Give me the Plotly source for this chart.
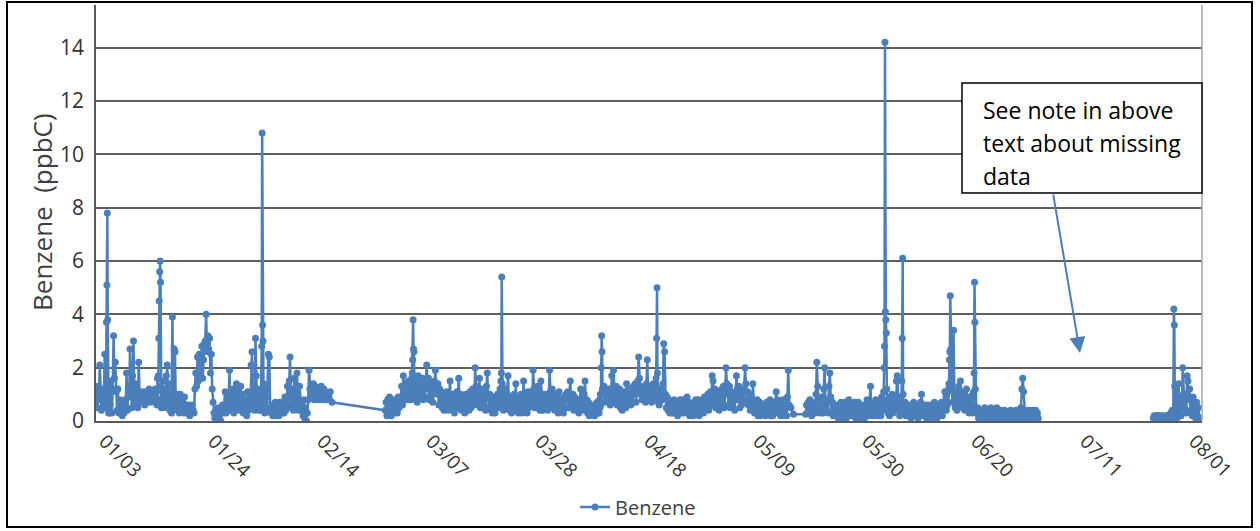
import pandas as pd
import plotly.graph_objects as go

# ---------------- DATA (ppbC), one string per calendar day, values evenly spread in the day ----------------
year_start = "2022-01-01"

seg1_first_day = 0      # Jan 01
seg1_days = [
    "1.2 0.6 1.0 0.5 1.3 0.8", "2.1 0.9 0.4 1.1 0.6 1.2",
    "2.5 1.2 0.5 1.3 3.7 5.1 7.8 3.8 1.0 0.3 0.8 0.3",
    "0.6 1.5 0.3 1.2 3.2 1.6", "2.2 1.1 0.4 1.2 0.3 0.8", "0.3 0.6 0.2 0.7 0.3 0.8",
    "0.5 1.8 0.4 1.2 0.9 2.7", "1.1 0.5 1.7 3.0 0.7 1.4", "0.6 1.2 0.5 2.2 1.0 0.7",
    "0.8 1.1 0.7 1.0 0.6 1.1", "0.7 1.0 0.8 1.2 0.7 1.0", "1.0 0.8 1.1 0.7 1.2 0.9",
    "1.1 0.6 1.6 0.8 1.7 3.1 4.5 5.6 6.0 5.2 1.3 0.5",
    "0.8 1.5 0.5 1.2 0.7 1.7", "2.1 0.6 1.4 0.4 0.9 0.3", "3.9 0.7 2.7 2.6 0.5 1.0",
    "0.4 0.9 0.3 1.0 0.5 0.8", "0.6 0.3 0.9 0.4 0.6 0.3", "0.3 0.6 0.2 0.5 0.3 0.6",
    "0.4 0.3 1.2 1.8 1.3 2.4", "1.5 2.5 1.8 2.2 2.8 1.6", "2.3 2.9 3.0 4.0 2.6 3.2",
    "2.7 3.1 1.8 2.5 1.2 0.7", "0.3 0.1 0.4 0.0 0.2 0.5", "0.1 0.3 0.0 0.4 0.6 0.3",
    "0.6 1.1 0.3 1.0 0.5 0.9", "1.9 0.4 1.1 0.6 1.2 0.3", "1.0 0.5 1.4 0.7 1.1 0.4",
    "0.8 1.3 0.5 1.0 0.3 0.8", "0.3 0.7 0.2 1.1 0.4 0.9", "0.5 2.1 2.6 0.7 1.2 0.4",
    "3.1 1.7 0.6 1.2 0.4 0.9",
    "0.8 0.4 1.1 2.8 10.8 3.6 3.0 1.4 0.5 1.0 0.3 0.7",
    "0.9 0.4 1.2 2.5 2.4 0.5", "0.3 0.6 0.2 0.5 0.3 0.7", "0.4 0.2 0.6 0.2 0.7 0.3",
    "0.5 0.3 0.7 0.3 0.9 0.4", "0.8 1.3 0.5 1.5 2.4 1.0", "0.6 1.2 0.4 1.6 0.9 0.5",
    "1.8 1.0 0.4 1.3 0.6 0.4", "0.6 0.2 0.8 0.1 0.5 0.0", "0.3 0.8 1.9 1.2 1.0 1.3",
    "1.0 1.4 0.8 1.3 0.9 1.2", "1.2 0.8 1.1 0.9 1.3 0.8", "1.0 1.2 0.8 1.1 0.8 1.0",
    "0.9 1.1 0.7",
]

seg2_first_day = 56     # Feb 26
seg2_days = [
    "0.4 0.7 0.2 0.8 0.4 0.9", "0.6 0.2 0.7 0.3 0.8 0.3", "0.5 0.8 0.3 0.9 0.5 0.7",
    "0.9 1.3 0.6 1.7 1.0 1.2", "0.8 1.4 1.0 1.5 0.8 1.3",
    "1.2 0.8 1.6 1.8 2.3 3.8 2.7 2.6 1.4 0.9 1.5 1.1",
    "1.3 0.7 1.7 0.9 1.4 1.2", "1.1 1.6 0.8 1.3 0.9 1.5", "2.1 1.2 1.6 0.8 1.4 1.0",
    "1.3 0.7 1.2 1.5 1.9 1.1", "1.0 1.4 0.6 1.2 0.7 1.1", "0.5 1.0 0.4 0.9 0.6 1.1",
    "0.8 0.4 1.0 1.5 0.5 0.9", "0.6 1.0 0.3 0.8 0.5 1.1", "0.9 1.6 0.6 1.0 0.4 0.8",
    "0.5 0.9 0.3 1.0 0.6 0.4", "0.8 0.4 1.1 0.5 0.9 1.2", "1.0 0.6 2.0 1.3 0.7 1.1",
    "0.9 1.6 0.5 1.2 0.7 1.0", "0.6 1.1 0.4 1.3 1.8 0.9", "0.5 1.0 0.4 0.8 0.3 0.9",
    "0.6 0.3 0.9 0.5 1.0 0.8",
    "0.9 0.5 1.2 0.7 1.5 1.8 5.4 1.4 0.6 1.1 0.4 0.9",
    "0.8 1.2 0.5 1.0 1.7 0.6", "0.4 0.9 0.3 0.8 0.5 1.0", "0.6 1.4 0.4 0.9 0.3 0.8",
    "0.5 1.0 0.3 0.7 1.5 0.8", "0.4 0.9 0.3 1.1 0.5 0.8", "0.6 1.1 0.7 1.9 1.2 0.5",
    "1.0 0.5 1.3 0.6 1.1 0.4", "1.5 0.8 0.4 1.0 0.6 0.9", "0.5 1.0 0.4 0.8 1.9 1.1",
    "0.6 1.2 0.5 1.0 0.4 0.9", "0.5 0.9 0.3 1.1 0.6 0.8", "0.4 0.8 0.3 0.9 0.5 1.0",
    "0.8 1.1 0.5 1.0 1.5 0.6", "0.5 1.0 0.4 0.9 0.6 0.8", "0.4 0.8 0.3 0.7 1.2 0.5",
    "0.9 0.4 1.0 1.5 0.5 0.8", "0.3 0.7 0.2 0.6 0.3 0.5", "0.3 0.6 0.2 0.5 0.3 0.7",
    "0.5 0.3 0.7 0.3 0.8 0.5 1.0 0.6 2.0 3.2 2.6 1.2",
    "1.0 1.3 0.7 1.2 0.8 1.1", "0.9 1.2 0.6 1.0 1.7 0.7", "1.9 1.1 0.7 1.3 0.6 1.0",
    "0.7 1.2 0.5 1.0 0.4 0.9", "0.6 1.1 0.5 1.4 0.7 1.0", "0.8 1.2 0.6 1.1 0.7 1.3",
    "1.0 1.4 0.7 1.2 1.5 2.4", "1.6 1.0 1.3 0.8 1.2 0.9", "1.1 0.7 1.4 2.3 0.9 1.2",
    "0.8 1.3 0.7 1.1 1.4 0.9",
    "1.0 1.4 0.8 1.6 3.1 5.0 1.8 1.1 0.7 1.2 0.6 1.0",
    "0.8 1.2 0.8 1.4 2.9 2.6", "1.0 0.5 0.9 0.4 0.8 0.3", "0.6 0.3 0.7 0.3 0.8 0.4",
    "0.4 0.7 0.2 0.6 0.4 0.8", "0.5 0.3 0.8 0.3 0.7 0.4", "0.4 0.9 0.3 0.7 0.2 0.6",
    "0.3 0.6 0.2 0.7 0.4 0.8", "0.5 0.3 0.8 0.2 0.7 0.4", "0.4 0.8 0.3 0.9 0.5 0.7",
    "0.5 1.0 0.4 0.8 1.1 0.6", "1.7 1.5 0.7 1.2 0.5 1.0", "0.6 1.1 0.4 0.9 0.5 1.2",
    "0.7 1.3 0.5 1.1 2.0 1.4", "1.0 0.6 1.3 0.5 1.1 0.7", "0.5 1.0 0.4 0.9 1.7 1.2",
    "0.8 1.3 0.5 1.0 0.6 1.1", "0.7 1.2 2.0 1.4 0.8 1.1", "0.6 1.0 0.4 0.9 0.5 1.4",
    "0.5 0.3 0.7 0.3 0.8 0.2", "0.4 0.7 0.2 0.6 0.3 0.5", "0.3 0.6 0.2 0.7 0.3 0.5",
    "0.4 0.8 0.2 0.6 0.2 0.7", "0.3 0.7 1.1 0.4 0.8 0.3", "0.5 0.2 0.7 0.2 0.8 0.4",
    "0.3 0.8 0.2 0.9 1.9 0.6", "0.5 0.25",
]

seg3_first_day = 137    # May 18
seg3_days = [
    "0.25 0.6 0.3 0.7 0.3 0.8", "0.5 0.2 0.7 0.3 0.6 0.3", "1.0 2.2 1.3 0.4 0.8 0.3",
    "0.5 0.9 0.3 1.2 2.0 0.6", "0.4 0.8 0.3 1.3 1.8 0.9", "0.3 0.7 0.2 0.6 0.2 0.5",
    "0.2 0.6 0.1 0.5 0.2 0.7", "0.4 0.1 0.6 0.2 0.7 0.1", "0.5 0.2 0.8 0.2 0.6 0.3",
    "0.2 0.6 0.2 0.7 0.1 0.5", "0.3 0.7 0.1 0.5 0.2 0.6", "0.2 0.5 0.1 0.6 0.3 0.8",
    "0.4 0.2 0.7 1.3 0.3 0.6", "0.2 0.6 0.2 0.8 0.3 0.5", "0.6 0.2 0.7 0.2 0.9 0.4",
    "0.6 1.1 2.0 2.8 14.2 4.1 3.8 3.3 1.2 0.4 0.8 0.3",
    "0.7 0.2 0.9 0.4 1.0 0.3", "0.5 0.9 0.4 1.5 1.7 0.8",
    "0.5 0.8 0.2 0.7 0.3 0.9 0.5 1.5 3.1 6.1 1.0 0.4",
    "0.3 0.7 0.2 0.6 0.2 0.5", "0.2 0.6 0.1 0.5 0.3 0.7", "0.2 0.5 0.2 0.6 0.1 0.4",
    "0.3 0.7 1.0 0.4 0.2 0.6", "0.2 0.5 0.1 0.6 0.2 0.4", "0.3 0.6 0.1 0.5 0.3 0.7",
    "0.2 0.4 0.1 0.6 0.2 0.5", "0.3 0.7 0.2 0.6 0.4 1.1",
    "0.5 0.9 0.4 1.0 0.6 1.1 0.7 1.2 1.4 2.3 2.6 4.7",
    "2.7 1.2 0.7 3.4 1.0 0.5", "0.9 0.4 1.1 1.3 0.6 1.5", "0.8 1.1 0.5 0.9 0.4 0.8",
    "1.2 0.5 0.9 0.3 0.8 0.4",
    "0.5 0.9 0.3 1.0 0.6 1.1 1.8 5.2 3.7 1.2 0.5 0.3",
    "0.3 0.5 0.1 0.4 0.1 0.3", "0.2 0.4 0.1 0.5 0.2 0.3", "0.3 0.1 0.4 0.1 0.5 0.1",
    "0.2 0.4 0.1 0.3 0.1 0.5", "0.1 0.3 0.1 0.4 0.1 0.3", "0.3 0.1 0.4 0.1 0.3 0.2",
    "0.2 0.3 0.1 0.4 0.1 0.3", "0.1 0.3 0.1 0.4 0.1 0.2", "0.2 0.4 0.1 0.5 1.2 1.6",
    "1.1 0.3 0.1 0.4 0.1 0.3", "0.2 0.4 0.1 0.3 0.1 0.4", "0.3 0.1 0.4 0.1 0.3 0.1",
]

seg4_first_day = 204    # Jul 24
seg4_days = [
    "0.1 0.2 0.0 0.2 0.1 0.2", "0.2 0.1 0.2 0.0 0.1 0.2", "0.1 0.0 0.2 0.1 0.2 0.1",
    "0.2 0.1 0.3 0.1 0.4 0.2",
    "4.2 3.6 1.3 0.4 1.2 0.2 0.7 0.1 0.6 0.3 0.8 1.4",
    "0.4 0.9 0.2 0.7 2.0 1.0", "0.5 1.0 0.3 1.7 1.5 0.8", "1.2 0.4 0.8 0.2 0.9 0.3",
    "0.6 0.1 0.7 0.2 0.5 0.1",
]

series_name = "Benzene"
y_title = "Benzene  (ppbC)"
note_lines = ["See note in above", "text about missing", "data"]
tick_first = "2022-01-03"
tick_step_days = 21


def expand(first_day, day_strings):
    base = pd.Timestamp(year_start)
    xs, ys = [], []
    for k, s in enumerate(day_strings):
        vals = [float(v) for v in s.split()]
        n = len(vals)
        for i, v in enumerate(vals):
            xs.append(base + pd.Timedelta(days=first_day + k + (i + 0.5) / n))
            ys.append(v)
    return xs, ys


x1, y1 = expand(seg1_first_day, seg1_days)
x2, y2 = expand(seg2_first_day, seg2_days)
x3, y3 = expand(seg3_first_day, seg3_days)
x4, y4 = expand(seg4_first_day, seg4_days)

# segments 1-3 are joined by the line (as in the source chart), the July gap is left empty
xs = x1 + x2 + x3 + [None] + x4
ys = y1 + y2 + y3 + [None] + y4

# ---------------- LAYOUT ----------------
W, H = 1260, 531
L, R, T, B = 96, 1202, 5, 421   # plot area in pixels


def px(xp):
    return (xp - L) / (R - L)


def py(yp):
    return (B - yp) / (B - T)


blue = "#4A7FBB"
font = "Open Sans"

fig = go.Figure()
fig.add_trace(go.Scatter(
    x=xs, y=ys, mode="lines+markers", name=series_name,
    line=dict(color=blue, width=2.5),
    marker=dict(color=blue, size=7),
    connectgaps=False,
))

base = pd.Timestamp(year_start)
x_range = [base + pd.Timedelta(days=0.362), base + pd.Timedelta(days=213.46)]

fig.update_layout(
    width=W, height=H, autosize=False,
    margin=dict(l=L, r=W - R, t=T, b=H - B, pad=0),
    paper_bgcolor="white", plot_bgcolor="white",
    showlegend=True,
    legend=dict(orientation="h", x=px(638), y=py(507), xanchor="center", yanchor="middle",
                font=dict(family=font, size=20, color="#404040"), bgcolor="rgba(0,0,0,0)"),
    xaxis=dict(
        range=x_range, type="date",
        tick0=tick_first, dtick=tick_step_days * 86400000, tickformat="%m/%d",
        tickangle=45, tickfont=dict(family=font, size=19, color="#333333"),
        showgrid=False, showline=True, linecolor="#595959", linewidth=1.5,
        ticks="", zeroline=False,
    ),
    yaxis=dict(
        range=[0, 15.6], dtick=2, tick0=0,
        tickfont=dict(family=font, size=21, color="#333333"),
        showgrid=True, gridcolor="#5e5e5e", gridwidth=1.5,
        showline=True, linecolor="#595959", linewidth=1.5,
        zeroline=False, ticks="", ticklabelstandoff=6,
    ),
)

shapes = [
    # outer frame
    dict(type="rect", xref="paper", yref="paper", x0=px(7), x1=px(1252), y0=py(527), y1=py(2),
         line=dict(color="black", width=2), fillcolor="rgba(0,0,0,0)", layer="below"),
    # right edge of plot area
    dict(type="line", xref="paper", yref="paper", x0=1, x1=1, y0=0, y1=1,
         line=dict(color="#a6a6a6", width=1.5)),
    # note box
    dict(type="rect", xref="paper", yref="paper", x0=px(962), x1=px(1202), y0=py(193), y1=py(83),
         line=dict(color="black", width=1.5), fillcolor="white", layer="above"),
]
fig.update_layout(shapes=shapes)

annotations = [
    dict(text=y_title, xref="paper", yref="paper", x=px(42), y=py(212), textangle=-90,
         showarrow=False, xanchor="center", yanchor="middle",
         font=dict(family=font, size=26, color="#404040")),
    dict(text="", xref="paper", yref="paper", x=px(1080), y=py(353), ax=1053 - 1080, ay=193 - 353,
         showarrow=True, arrowhead=2, arrowsize=1.6, arrowwidth=2, arrowcolor=blue),
]
for i, line in enumerate(note_lines):
    annotations.append(dict(text=line, xref="paper", yref="paper", x=px(981), y=py(110 + 33 * i),
                            showarrow=False, xanchor="left", yanchor="middle",
                            font=dict(family=font, size=23, color="black")))
fig.update_layout(annotations=annotations)

fig.write_html("out.html", config={"displayModeBar": False},
               post_script="document.body.style.margin='0px';")
